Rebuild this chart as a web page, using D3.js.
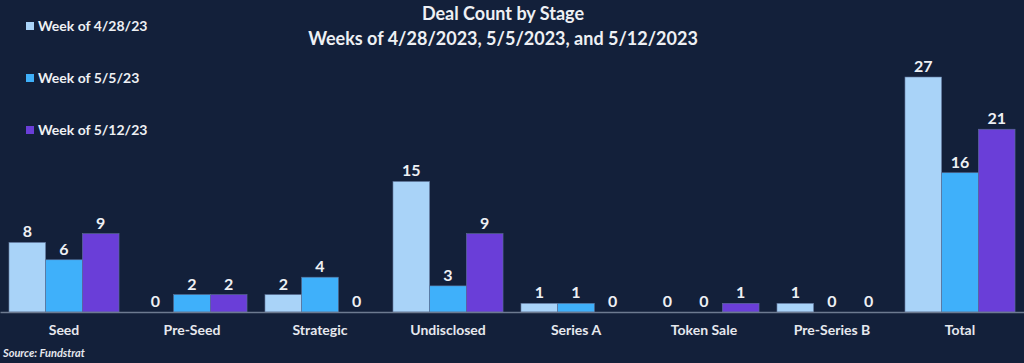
<!DOCTYPE html>
<html>
<head>
<meta charset="utf-8">
<script src="https://cdn.jsdelivr.net/npm/d3@7"></script>
<style>
  html, body { margin: 0; padding: 0; background: #13203a; }
  svg { display: block; font-family: Lato, "Open Sans", sans-serif; }
</style>
</head>
<body>
<div id="chart"></div>
<script>
// data
var stages = ["Seed", "Pre-Seed", "Strategic", "Undisclosed", "Series A", "Token Sale", "Pre-Series B", "Total"];
var weeks = ["Week of 4/28/23", "Week of 5/5/23", "Week of 5/12/23"];
var week1 = [8, 0, 2, 15, 1, 0, 1, 27];
var week2 = [6, 2, 4, 3, 1, 0, 0, 16];
var week3 = [9, 2, 0, 9, 0, 1, 0, 21];
var colours = ["#a9d3f8", "#3fb0fa", "#6a3ed8"];

var width = 1024, height = 363;
var baseline = 312;

var svg = d3.select("#chart").append("svg")
  .attr("width", width)
  .attr("height", height);

svg.append("rect")
  .attr("width", width)
  .attr("height", height)
  .attr("fill", "#13203a");

var series = [week1, week2, week3];

var x = d3.scaleBand()
  .domain(stages)
  .range([0, width])
  .paddingInner(0.14)
  .paddingOuter(0.07);

var xInner = d3.scaleBand()
  .domain(d3.range(weeks.length))
  .range([0, x.bandwidth()]);

var y = d3.scaleLinear()
  .domain([0, 27])
  .range([baseline, 77]);

var groups = svg.append("g")
  .selectAll("g")
  .data(stages)
  .enter().append("g")
    .attr("transform", d => "translate(" + x(d) + ",0)");

groups.selectAll("rect")
  .data((d, i) => series.map((s, k) => ({k: k, v: s[i]})))
  .enter().append("rect")
    .attr("x", d => xInner(d.k))
    .attr("y", d => y(d.v))
    .attr("width", xInner.bandwidth())
    .attr("height", d => baseline - y(d.v))
    .attr("fill", d => colours[d.k])
    .attr("stroke", d => d.v > 0 ? "#5b6f95" : "none")
    .attr("stroke-width", 0.6);

groups.selectAll("text.value")
  .data((d, i) => series.map((s, k) => ({k: k, v: s[i]})))
  .enter().append("text")
    .attr("class", "value")
    .attr("x", d => xInner(d.k) + xInner.bandwidth() / 2)
    .attr("y", d => y(d.v) - 5)
    .attr("text-anchor", "middle")
    .attr("fill", "#eef0f4")
    .attr("font-size", 16)
    .attr("font-weight", "bold")
    .text(d => d.v);

// axis along the baseline
var xAxis = svg.append("g")
  .attr("transform", "translate(0," + baseline + ")")
  .call(d3.axisBottom(x).tickSize(0).tickPadding(13));
xAxis.select(".domain")
  .attr("stroke", "#6d7a90")
  .attr("stroke-width", 1.5);
xAxis.selectAll("text")
  .attr("fill", "#e6e8ee")
  .attr("font-size", 14)
  .attr("font-weight", "bold")
  .attr("font-family", "Lato, sans-serif");

// title
var title = svg.append("g")
  .attr("text-anchor", "middle")
  .attr("fill", "#eef0f4")
  .attr("font-weight", "bold")
  .attr("font-size", 18);
title.append("text")
  .attr("x", 503)
  .attr("y", 20)
  .text("Deal Count by Stage");
title.append("text")
  .attr("x", 503)
  .attr("y", 45)
  .text("Weeks of 4/28/2023, 5/5/2023, and 5/12/2023");

// legend
var legend = svg.append("g")
  .selectAll("g")
  .data(weeks)
  .enter().append("g")
    .attr("transform", (d, i) => "translate(26," + (26 + i * 52) + ")");
legend.append("rect")
  .attr("x", 0)
  .attr("y", -4)
  .attr("width", 8)
  .attr("height", 8)
  .attr("fill", (d, i) => colours[i]);
legend.append("text")
  .attr("x", 12)
  .attr("y", 5)
  .attr("fill", "#eef0f4")
  .attr("font-size", 14)
  .attr("font-weight", "bold")
  .text(d => d);

svg.append("text")
  .attr("x", 3)
  .attr("y", 357)
  .attr("fill", "#e6e8ee")
  .attr("font-size", 11)
  .attr("font-weight", "bold")
  .attr("font-style", "italic")
  .text("Source: Fundstrat");
</script>
</body>
</html>
